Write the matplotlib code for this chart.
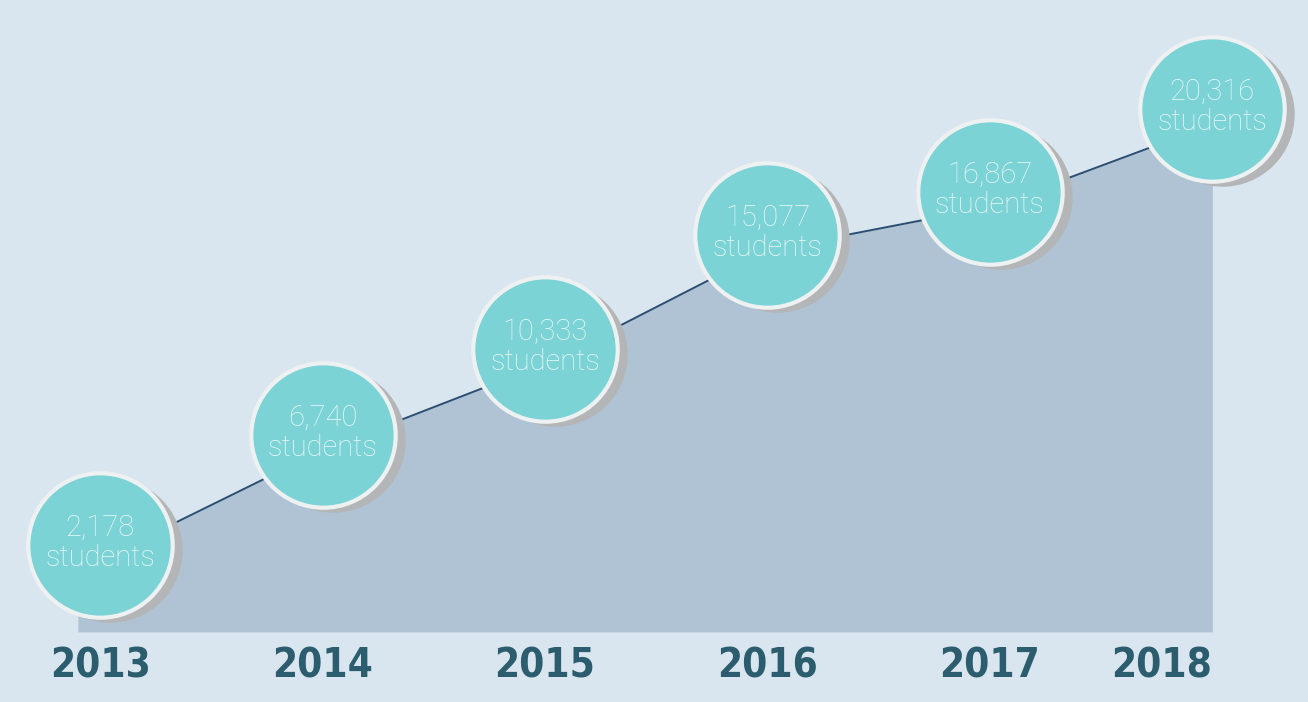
import matplotlib
matplotlib.use("Agg")
import matplotlib.pyplot as plt
from matplotlib import font_manager
from matplotlib.transforms import offset_copy, blended_transform_factory

years = [2013, 2014, 2015, 2016, 2017, 2018]
students = [2178, 6740, 10333, 15077, 16867, 20316]
labels = ["2,178", "6,740", "10,333", "15,077", "16,867", "20,316"]

bg = "#dae6ef"
area_col = "#b0c3d4"
line_col = "#2b4e72"
teal = "#7bd3d5"
rim = "#eef1f1"
shadow = "#b3b5b7"
year_col = "#2c5d6e"

# look for a condensed bold face for the years
cond = [f for f in font_manager.fontManager.ttflist
        if str(f.stretch) in ("condensed", "semi-condensed", "extra-condensed", "ultra-condensed")
        or "Condensed" in f.name or "Narrow" in f.name]
if cond:
    yfont = font_manager.FontProperties(fname=cond[0].fname)
    for f in cond:
        if f.weight in ("bold", 700, "heavy", 800, 900, "black"):
            yfont = font_manager.FontProperties(fname=f.fname)
            break
    ysize = 29
else:
    yfont = font_manager.FontProperties(family="DejaVu Sans", weight="bold")
    ysize = 25
yfont.set_size(ysize)

fig = plt.figure(figsize=(13.08, 7.02), dpi=100, facecolor=bg)
ax = fig.add_axes([0, 0, 1, 1])
ax.set_facecolor(bg)
ax.set_xlim(2012.55, 2018.43)
ax.set_ylim(-3750, 25500)
ax.axis("off")

base = -830
fx = [years[0] - 0.1] + years
fy = [students[0]] + students
ax.fill_between(fx, fy, base, color=area_col, lw=0, zorder=1)
ax.plot(years, students, color=line_col, lw=1.4, zorder=2)

# circles sit a bit above the data points, with a drop shadow
up = offset_copy(ax.transData, fig=fig, x=0, y=15, units="dots")
sh = offset_copy(ax.transData, fig=fig, x=10, y=10, units="dots")
size = 104 ** 2
ax.scatter(years, students, s=size, color=shadow, lw=0, transform=sh, zorder=3)
ax.scatter(years, students, s=size, color=teal, edgecolor=rim, lw=3,
           transform=up, zorder=4)

for x, v, lab in zip(years, students, labels):
    t1 = offset_copy(ax.transData, fig=fig, x=0, y=32, units="dots")
    t2 = offset_copy(ax.transData, fig=fig, x=0, y=2, units="dots")
    ax.text(x, v, lab, transform=t1, ha="center", va="center", color="#eef8f8",
            fontsize=21, family="Roboto", fontweight="light", zorder=5)
    ax.text(x, v, "students", transform=t2, ha="center", va="center",
            color="#eef8f8", fontsize=21, family="Roboto", fontweight="light",
            zorder=5)

tr = blended_transform_factory(ax.transData, ax.transAxes)
for i, x in enumerate(years):
    ha = "right" if i == len(years) - 1 else "center"
    ax.text(x, 0.05, str(x), transform=tr, ha=ha, va="center", color=year_col,
            fontproperties=yfont)

fig.savefig("out.png", dpi=100, facecolor=bg)
